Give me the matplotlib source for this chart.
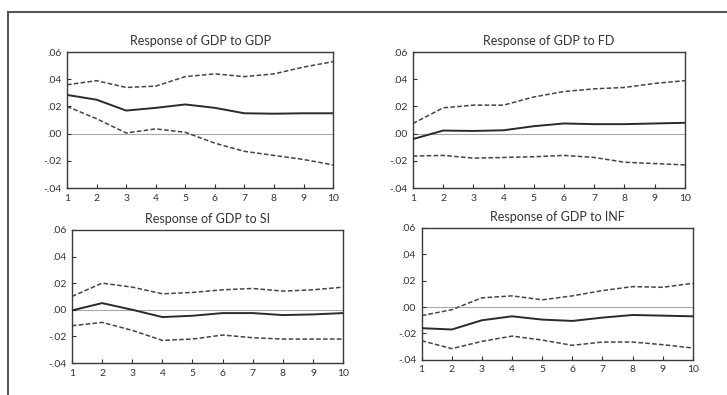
import matplotlib
matplotlib.use("Agg")
import matplotlib.pyplot as plt
from matplotlib.lines import Line2D

periods = [1, 2, 3, 4, 5, 6, 7, 8, 9, 10]
yticks = [-0.04, -0.02, 0.00, 0.02, 0.04, 0.06]
ytick_labels = ["-.04", "-.02", ".00", ".02", ".04", ".06"]

titles = ["Response of GDP to GDP", "Response of GDP to FD",
          "Response of GDP to SI", "Response of GDP to INF"]

gdp_resp = [0.0285, 0.025, 0.017, 0.019, 0.0215, 0.019, 0.015, 0.0147, 0.015, 0.015]
gdp_up = [0.036, 0.039, 0.034, 0.035, 0.042, 0.044, 0.042, 0.044, 0.049, 0.053]
gdp_lo = [0.020, 0.011, 0.0005, 0.0035, 0.001, -0.007, -0.013, -0.016, -0.019, -0.023]

fd_resp = [-0.004, 0.0023, 0.002, 0.0025, 0.0055, 0.0075, 0.007, 0.007, 0.0075, 0.008]
fd_up = [0.0075, 0.019, 0.021, 0.021, 0.027, 0.031, 0.033, 0.034, 0.037, 0.039]
fd_lo = [-0.0165, -0.016, -0.018, -0.0175, -0.017, -0.016, -0.0175, -0.021, -0.022, -0.023]

si_resp = [-0.0005, 0.005, 0.0, -0.0055, -0.0045, -0.0025, -0.0025, -0.004, -0.0035, -0.0025]
si_up = [0.010, 0.020, 0.017, 0.012, 0.013, 0.015, 0.016, 0.014, 0.015, 0.017]
si_lo = [-0.012, -0.0095, -0.0155, -0.023, -0.022, -0.019, -0.021, -0.022, -0.022, -0.022]

inf_resp = [-0.016, -0.017, -0.010, -0.007, -0.0095, -0.0105, -0.008, -0.006, -0.0065, -0.007]
inf_up = [-0.0065, -0.002, 0.007, 0.0085, 0.0055, 0.0085, 0.0125, 0.0155, 0.015, 0.018]
inf_lo = [-0.0255, -0.0315, -0.026, -0.022, -0.025, -0.029, -0.0265, -0.0265, -0.0285, -0.031]

panels = [
    (gdp_resp, gdp_up, gdp_lo),
    (fd_resp, fd_up, fd_lo),
    (si_resp, si_up, si_lo),
    (inf_resp, inf_up, inf_lo),
]

positions = [
    [0.0922, 0.524, 0.366, 0.344],
    [0.568, 0.524, 0.374, 0.344],
    [0.099, 0.081, 0.373, 0.337],
    [0.580, 0.089, 0.373, 0.334],
]

plt.rcParams['font.family'] = ['Lato', 'DejaVu Sans']

fig = plt.figure(figsize=(7.27, 3.95), dpi=100)
fig.patch.set_facecolor("white")

# outer frame (top and left)
fig.add_artist(Line2D([8/727, 1.0], [1 - 12/395, 1 - 12/395], transform=fig.transFigure,
                      color="#555555", lw=1.5))
fig.add_artist(Line2D([8/727, 8/727], [0.0, 1 - 12/395], transform=fig.transFigure,
                      color="#555555", lw=1.5))

for pos, title, (resp, up, lo) in zip(positions, titles, panels):
    ax = fig.add_axes(pos)
    ax.axhline(0, color="#a8a8a8", lw=0.8, zorder=1)
    ax.plot(periods, up, color="#444444", lw=1.1, ls=(0, (3, 1.5)), zorder=2)
    ax.plot(periods, lo, color="#444444", lw=1.1, ls=(0, (3, 1.5)), zorder=2)
    ax.plot(periods, resp, color="#2a2a2a", lw=1.4, zorder=3)
    ax.set_xlim(1, 10)
    ax.set_ylim(-0.04, 0.06)
    ax.set_xticks(periods)
    ax.set_xticklabels([str(p) for p in periods])
    ax.set_yticks(yticks)
    ax.set_yticklabels(ytick_labels)
    ax.tick_params(direction="in", length=3, width=0.8, labelsize=7.5, colors="#333333", pad=4)
    for s in ax.spines.values():
        s.set_color("#3a3a3a")
        s.set_linewidth(1.0)
    ax.set_title(title, fontsize=9, color="#333333", pad=5)

fig.savefig("out.png", dpi=100, facecolor="white")
